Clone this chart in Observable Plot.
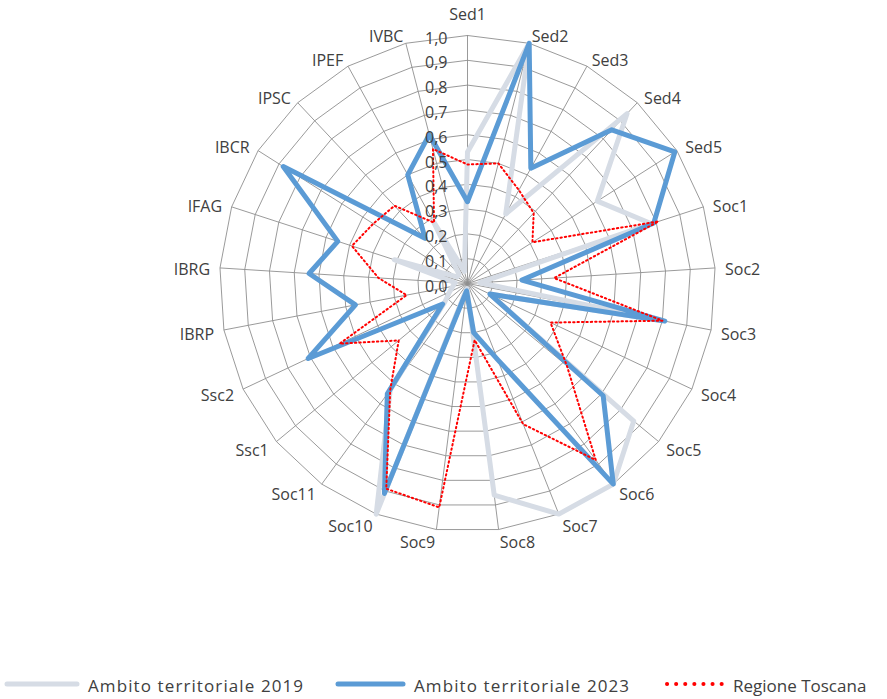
<!DOCTYPE html>
<html><head><meta charset="utf-8">
<script src="https://cdn.jsdelivr.net/npm/d3@7"></script>
<script src="https://cdn.jsdelivr.net/npm/@observablehq/plot@0.6"></script>
<style>
body{margin:0;background:#fff;font-family:"Open Sans",sans-serif;}
#wrap{position:relative;width:887px;height:699px;overflow:hidden;}
#legend{position:absolute;left:0;top:670px;width:887px;height:32px;font-size:17px;color:#404040;}
.sw{position:absolute;top:0;}
.lt{position:absolute;top:4px;line-height:24px;white-space:nowrap;}
</style></head><body><div id="wrap"><div id="chart"></div><div id="legend"></div></div>
<script>
const categories = ["Sed1","Sed2","Sed3","Sed4","Sed5","Soc1","Soc2","Soc3","Soc4","Soc5","Soc6","Soc7","Soc8","Soc9","Soc10","Soc11","Ssc1","Ssc2","IBRP","IBRG","IFAG","IBCR","IPSC","IPEF","IVBC"];
const values2019 = [0.53,1.00,0.32,0.94,0.62,0.78,0.05,0.80,0.10,0.87,1.00,1.00,0.86,0.02,1.00,0.53,0.12,0.08,0.06,0.05,0.31,0.05,0.05,0.29,0.05];
const values2023 = [0.33,1.00,0.53,0.85,0.99,0.79,0.22,0.81,0.10,0.71,1.00,0.33,0.20,0.03,0.91,0.55,0.13,0.71,0.46,0.64,0.55,0.88,0.25,0.50,0.62];
const valuesToscana = [0.48,0.50,0.43,0.39,0.31,0.81,0.35,0.80,0.37,0.52,0.88,0.61,0.23,0.91,0.89,0.53,0.36,0.57,0.25,0.36,0.49,0.45,0.43,0.28,0.56];
const tickValues = [0,0.1,0.2,0.3,0.4,0.5,0.6,0.7,0.8,0.9,1.0];
const tickLabels = ["0,0","0,1","0,2","0,3","0,4","0,5","0,6","0,7","0,8","0,9","1,0"];
const seriesNames = ["Ambito territoriale 2019","Ambito territoriale 2023","Regione Toscana"];

const n = categories.length;
const ang = i => i * 2 * Math.PI / n;
const R = 248, cx = 467, cy = 283;
function poly(vals, key) {
  const a = vals.map((v, i) => ({key, x: v * Math.sin(ang(i)), y: v * Math.cos(ang(i))}));
  a.push({...a[0]});
  return a;
}
const rings = tickValues.filter(t => t > 0).flatMap(t => poly(categories.map(() => t), t));
const spokes = categories.map((c, i) => ({x: Math.sin(ang(i)), y: Math.cos(ang(i))}));
const off = 10 / R;
const labels = categories.map((c, i) => {
  const s = Math.sin(ang(i)), co = Math.cos(ang(i));
  const anchor = Math.abs(s) < 0.01 ? "middle" : (s > 0 ? "start" : "end");
  const k = anchor === "middle" ? 1 + 24 / R : 1 + off;
  return {label: c, x: s * k, y: co * k, anchor};
});
const ticks = tickValues.map((t, i) => ({x: 0, y: t, label: tickLabels[i]}));
const textColor = "#404040";

const chart = Plot.plot({
  width: 887, height: 668,
  x: {domain: [-1, 1], range: [cx - R, cx + R], axis: null},
  y: {domain: [-1, 1], range: [cy + R, cy - R], axis: null},
  style: {fontFamily: "'Open Sans', sans-serif", fontSize: "16px", background: "white"},
  marks: [
    Plot.line(rings, {x: "x", y: "y", z: "key", stroke: "#8e8e8e", strokeWidth: 0.9}),
    Plot.link(spokes, {x1: 0, y1: 0, x2: "x", y2: "y", stroke: "#8e8e8e", strokeWidth: 0.9}),
    Plot.line(poly(values2019, "2019"), {x: "x", y: "y", stroke: "#D6DCE5", strokeWidth: 5, strokeLinejoin: "round"}),
    Plot.line(poly(values2023, "2023"), {x: "x", y: "y", stroke: "#5B9BD5", strokeWidth: 5, strokeLinejoin: "round"}),
    Plot.line(poly(valuesToscana, "tos"), {x: "x", y: "y", stroke: "#FF0000", strokeWidth: 2, strokeDasharray: "1.4,3"}),
    Plot.text(ticks, {x: "x", y: "y", text: "label", textAnchor: "end", dx: -20, dy: 3, fill: textColor, fontSize: 16}),
    Plot.text(labels.filter(d => d.anchor === "start"), {x: "x", y: "y", text: "label", textAnchor: "start", dy: 3, fill: textColor, fontSize: 16}),
    Plot.text(labels.filter(d => d.anchor === "end"), {x: "x", y: "y", text: "label", textAnchor: "end", dy: 3, fill: textColor, fontSize: 16}),
    Plot.text(labels.filter(d => d.anchor === "middle"), {x: "x", y: "y", text: "label", textAnchor: "middle", dy: 3, fill: textColor, fontSize: 16})
  ]
});
document.getElementById("chart").append(chart);

const legend = document.getElementById("legend");
const items = [
  {name: seriesNames[0], x0: 7, x1: 77, tx: 88, stroke: "#D6DCE5", w: 5, dash: null, ls: "1.1px"},
  {name: seriesNames[1], x0: 338, x1: 403, tx: 414, stroke: "#5B9BD5", w: 5, dash: null, ls: "1.1px"},
  {name: seriesNames[2], x0: 667, x1: 722, tx: 733, stroke: "#FF0000", w: 4, dash: "0.1,9", ls: "0px"}
];
for (const it of items) {
  const svg = d3.create("svg").attr("class", "sw").attr("width", it.x1 - it.x0 + 10).attr("height", 32)
    .style("left", (it.x0 - 5) + "px");
  svg.append("line").attr("x1", 5).attr("x2", it.x1 - it.x0 + 5).attr("y1", 14).attr("y2", 14)
    .attr("stroke", it.stroke).attr("stroke-width", it.w).attr("stroke-linecap", "round")
    .attr("stroke-dasharray", it.dash);
  legend.append(svg.node());
  const sp = document.createElement("span");
  sp.className = "lt"; sp.style.left = it.tx + "px"; sp.style.letterSpacing = it.ls; sp.textContent = it.name;
  legend.append(sp);
}
</script></body></html>
